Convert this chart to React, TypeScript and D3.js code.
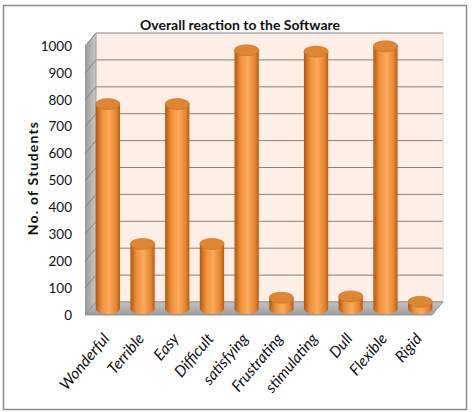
import React from 'react';
import * as d3 from 'd3';

const categories = ['Wonderful', 'Terrible', 'Easy', 'Difficult', 'satisfying', 'Frustrating', 'stimulating', 'Dull', 'Flexible', 'Rigid'];
const students = [760, 240, 760, 240, 960, 40, 955, 45, 975, 25];
const yTicks = [0, 100, 200, 300, 400, 500, 600, 700, 800, 900, 1000];

const W = 473;
const H = 412;
// front plane of the 3D box, and depth offset to the back wall
const front = { left: 85, right: 432, bottom: 315, top: 46 };
const depth = { dx: 11, dy: -13 };
const font = 'Lato, "Open Sans", sans-serif';

const App: React.FC = () => {
    const x = d3.scaleBand<string>().domain(categories).range([front.left, front.right]).paddingInner(0).paddingOuter(0);
    const y = d3.scaleLinear().domain([0, 1000]).range([front.bottom, front.top]);

    const bw = x.bandwidth() * 0.7;
    const ry = 5.5;
    const midDx = depth.dx / 2;
    const midDy = depth.dy / 2;

    const backL = front.left + depth.dx;
    const backR = front.right + depth.dx;

    return (
        <svg width={W} height={H} style={{ position: 'absolute', left: 0, top: 0 }}>
            <defs>
                <linearGradient id="cyl" x1="0" x2="1" y1="0" y2="0">
                    <stop offset="0%" stopColor="#b4570f" />
                    <stop offset="25%" stopColor="#ee8f3a" />
                    <stop offset="55%" stopColor="#fbab5d" />
                    <stop offset="85%" stopColor="#e5832f" />
                    <stop offset="100%" stopColor="#b85c14" />
                </linearGradient>
                <linearGradient id="sideWall" x1="0" x2="1" y1="0" y2="0">
                    <stop offset="0%" stopColor="#9a9a9a" />
                    <stop offset="100%" stopColor="#c8c8c8" />
                </linearGradient>
                <linearGradient id="floor" x1="0" x2="0" y1="0" y2="1">
                    <stop offset="0%" stopColor="#c4c4c4" />
                    <stop offset="100%" stopColor="#9c9c9c" />
                </linearGradient>
            </defs>

            <rect x={0} y={0} width={W} height={H} fill="#ffffff" />
            <rect x={3.5} y={5.5} width={463} height={404} fill="none" stroke="#8c8c8c" strokeWidth={1.5} />

            <text x={240} y={30} textAnchor="middle" fontFamily={font} fontSize={14} fontWeight="bold" fill="#111">
                Overall reaction to the Software
            </text>

            {/* back wall */}
            <rect x={backL} y={y(1000) + depth.dy} width={backR - backL} height={y(0) - y(1000)} fill="#fdeee6" />
            {/* left side wall */}
            <polygon
                points={`${front.left},${y(0)} ${backL},${y(0) + depth.dy} ${backL},${y(1000) + depth.dy} ${front.left},${y(1000)}`}
                fill="url(#sideWall)"
            />
            {/* gridlines */}
            {yTicks.map((t) => (
                <g key={t}>
                    <line x1={backL} x2={backR} y1={y(t) + depth.dy} y2={y(t) + depth.dy} stroke="#828282" strokeWidth={1} />
                    <line x1={front.left} x2={backL} y1={y(t)} y2={y(t) + depth.dy} stroke="#828282" strokeWidth={1} />
                </g>
            ))}
            <line x1={backL} x2={backL} y1={y(0) + depth.dy} y2={y(1000) + depth.dy} stroke="#9a9a9a" />
            <line x1={backR} x2={backR} y1={y(0) + depth.dy} y2={y(1000) + depth.dy} stroke="#d8d8d8" />
            {/* floor */}
            <polygon
                points={`${front.left},${y(0)} ${front.right},${y(0)} ${backR},${y(0) + depth.dy} ${backL},${y(0) + depth.dy}`}
                fill="url(#floor)"
                stroke="#8a8a8a"
                strokeWidth={0.8}
            />

            {/* y tick labels */}
            {yTicks.map((t) => (
                <text key={t} x={72} y={y(t)} dy="0.35em" textAnchor="end" fontFamily={font} fontSize={13.5} fill="#111">
                    {t}
                </text>
            ))}

            <text
                transform={`translate(38, 178) rotate(-90)`}
                textAnchor="middle"
                fontFamily={font}
                fontSize={14}
                fontWeight="bold"
                letterSpacing={1.2}
                fill="#111"
            >
                No. of Students
            </text>

            {/* cylinders */}
            {categories.map((c, i) => {
                const cx = (x(c) ?? 0) + x.bandwidth() / 2 + midDx;
                const yTop = y(students[i]) + midDy;
                const yBot = y(0) + midDy;
                return (
                    <g key={c}>
                        <path
                            d={`M${cx - bw / 2},${yTop} L${cx - bw / 2},${yBot} A${bw / 2},${ry} 0 0 0 ${cx + bw / 2},${yBot} L${cx + bw / 2},${yTop} Z`}
                            fill="url(#cyl)"
                        />
                        <ellipse cx={cx} cy={yTop} rx={bw / 2} ry={ry} fill="#df8634" stroke="#c46d22" strokeWidth={0.6} />
                    </g>
                );
            })}

            {/* category labels */}
            {categories.map((c) => {
                const cx = (x(c) ?? 0) + x.bandwidth() / 2;
                return (
                    <text
                        key={c}
                        transform={`translate(${cx + 8}, 339) rotate(-50)`}
                        textAnchor="end"
                        fontFamily={font}
                        fontSize={15.5}
                        fontStyle="italic"
                        fill="#111"
                    >
                        {c}
                    </text>
                );
            })}
        </svg>
    );
};

export default App;
